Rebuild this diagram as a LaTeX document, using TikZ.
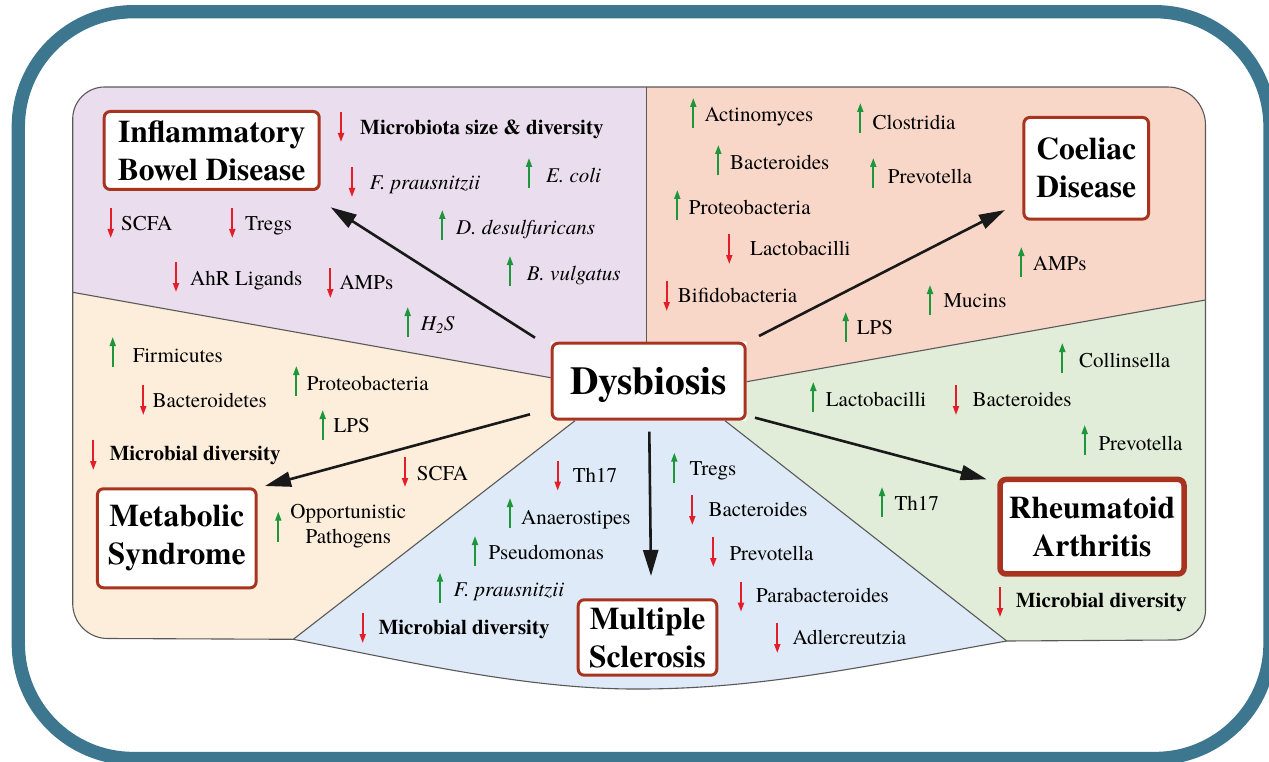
\documentclass[tikz,border=0pt]{standalone}
\usepackage{fontspec}
\setmainfont{TeX Gyre Termes}
\usetikzlibrary{arrows.meta}
\definecolor{frameteal}{RGB}{61,119,143}
\definecolor{cpur}{RGB}{234,221,237}
\definecolor{cpea}{RGB}{249,215,200}
\definecolor{ccre}{RGB}{253,238,219}
\definecolor{cblu}{RGB}{222,234,247}
\definecolor{cgre}{RGB}{225,237,217}
\definecolor{boxred}{RGB}{168,52,32}
\definecolor{upgreen}{RGB}{30,150,60}
\definecolor{dnred}{RGB}{228,30,40}
\newcommand{\UpLbl}[6]{\draw[uparr] (#2,#3+30) -- (#2,#3); \node[lbl] (#1) at (#4,#5+7.5) {#6};}
\newcommand{\DnLbl}[6]{\draw[dnarr] (#2,#3) -- (#2,#3+30); \node[lbl] (#1) at (#4,#5+7.5) {#6};}
\begin{document}
\begin{tikzpicture}[x=1pt,y=-1pt,
  lbl/.style={anchor=base west, inner sep=0pt, font=\fontsize{21}{25}\selectfont},
  uparr/.style={draw=upgreen, line width=1.8pt, -{Triangle[length=9pt,width=6pt]}},
  dnarr/.style={draw=dnred, line width=1.8pt, -{Triangle[length=9pt,width=6pt]}},
  outl/.style={draw=black!65, line width=1.1pt},
  title/.style={draw=boxred, fill=white, line width=3pt, rounded corners=6pt, align=center,
    inner sep=0pt, font=\fontsize{31.5}{38}\selectfont\bfseries},
  bigarr/.style={draw=black!90, line width=2.6pt, -{Triangle[length=26pt,width=15pt]}}]
\useasboundingbox (0,0) rectangle (1269,762);
\fill[white] (0,0) rectangle (1269,762);
% outer frame
\draw[frameteal, line width=13.3pt, rounded corners=115pt] (18.3,11.7) rectangle (1270,758.5);
% key points
\coordinate (Lp) at (72.7,292.3);
\coordinate (Ptop) at (646.7,87);
\coordinate (Pdt) at (646.7,341.7);
\coordinate (Dtl) at (550.7,341.7);
\coordinate (Dl) at (550.7,377.7);
\coordinate (Dtr) at (746.7,341.7);
\coordinate (Dr) at (746.7,381.7);
\coordinate (Dbr) at (746.7,420.7);
\coordinate (Dbg) at (725,420.7);
\coordinate (Dbc) at (575,420.7);
\coordinate (Dbl) at (550.7,420.7);
\coordinate (Rp) at (1205.5,300);
\coordinate (Bg) at (1006.7,641);
\coordinate (Bc) at (293.3,639.3);
% region fills
\fill[cpur] (Lp) -- (72.7,119) .. controls (72.7,101.3) and (87,87) .. (104.7,87) -- (Ptop) -- (Pdt) -- (Dtl) -- (Dl) -- cycle;
\fill[cpea] (Ptop) -- (1167.5,87) .. controls (1188.5,87) and (1205.5,104) .. (1205.5,125) -- (Rp) -- (Dr) -- (Dtr) -- (Pdt) -- cycle;
\fill[cgre] (Rp) -- (1205.5,610) .. controls (1205.5,626.6) and (1192.1,640) .. (1175.5,640) -- (Bg) -- (Dbg) -- (Dbr) -- (Dr) -- cycle;
\fill[cblu] (Bg) .. controls (870,665) and (760,690) .. (630,689) .. controls (520,688) and (400,660) .. (Bc) -- (Dbc) -- (Dbg) -- cycle;
\fill[ccre] (Bc) -- (107.7,638.5) .. controls (88.4,638.5) and (72.7,622.8) .. (72.7,603.5) -- (Lp) -- (Dl) -- (Dbl) -- (Dbc) -- cycle;
% outline and dividers
\draw[outl] (Lp) -- (72.7,119) .. controls (72.7,101.3) and (87,87) .. (104.7,87) -- (1167.5,87)
  .. controls (1188.5,87) and (1205.5,104) .. (1205.5,125) -- (1205.5,610)
  .. controls (1205.5,626.6) and (1192.1,640) .. (1175.5,640) -- (Bg)
  .. controls (870,665) and (760,690) .. (630,689) .. controls (520,688) and (400,660) .. (Bc)
  -- (107.7,638.5) .. controls (88.4,638.5) and (72.7,622.8) .. (72.7,603.5) -- cycle;
\draw[outl] (Ptop) -- (Pdt);
\draw[outl] (Lp) -- (Dl);
\draw[outl] (Rp) -- (Dr);
\draw[outl] (Bc) -- (Dbc);
\draw[outl] (Bg) -- (Dbg);
% boxes
\node[title, font=\fontsize{39.5}{45}\selectfont\bfseries, minimum width=193pt, minimum height=76pt, text height=27pt, text depth=0pt] (dys) at (648.7,381.2) {Dysbiosis};
\node[title, minimum width=215pt, minimum height=78pt] (ibd) at (211.7,150.5) {Inflammatory\\Bowel Disease};
\node[title, minimum width=124.7pt, minimum height=101.7pt] (cel) at (1086.2,168.3) {Coeliac\\Disease};
\node[title, minimum width=158.7pt, minimum height=99pt] (met) at (176.8,538.3) {Metabolic\\Syndrome};
\node[title, minimum width=138.6pt, minimum height=75.4pt] (ms) at (647.5,637.5) {Multiple\\Sclerosis};
\node[title, line width=5.5pt, minimum width=184pt, minimum height=94.5pt] (ra) at (1092,526.7) {Rheumatoid\\Arthritis};
% big arrows
\coordinate (a1s) at (535,337.7); \coordinate (a1e) at (330.7,207.3);
\coordinate (a2s) at (759,336);   \coordinate (a2e) at (1005,210);
\coordinate (a3s) at (530,414.3); \coordinate (a3e) at (265,486);
\coordinate (a4s) at (649.3,431.7); \coordinate (a4e) at (651,576);
\coordinate (a5s) at (755,417.7); \coordinate (a5e) at (986.7,479.3);
\draw[bigarr] (a1s) -- (a1e);
\draw[bigarr] (a2s) -- (a2e);
\draw[bigarr] (a3s) -- (a3e);
\draw[bigarr] (a4s) -- (a4e);
\draw[bigarr] (a5s) -- (a5e);
% IBD items
\DnLbl{p1}{341}{112}{360}{126.7}{\textbf{Microbiota size \& diversity}}
\DnLbl{p2}{352}{167}{369.3}{181.7}{\textit{F. prausnitzii}}
\UpLbl{p3}{529}{158}{546}{175}{\textit{E. coli}}
\DnLbl{p4}{110.7}{208}{121}{223}{SCFA}
\DnLbl{p5}{232.3}{208}{245}{223}{Tregs}
\UpLbl{p6}{442.3}{210}{456}{226.7}{\textit{D. desulfuricans}}
\DnLbl{p7}{176}{262}{190}{277.7}{AhR Ligands}
\DnLbl{p8}{330.3}{268}{339.3}{282.3}{AMPs}
\UpLbl{p9}{510}{256}{526.7}{272.7}{\textit{B. vulgatus}}
\UpLbl{p10}{407.7}{307}{420.7}{322.7}{\textit{H\textsubscript{2}S}}
% Coeliac items
\UpLbl{c1}{693.3}{98}{704.3}{114.3}{Actinomyces}
\UpLbl{c2}{860.3}{103}{872.3}{121.7}{Clostridia}
\UpLbl{c3}{718.3}{145}{730}{161.7}{Bacteroides}
\UpLbl{c4}{873.3}{158}{887.7}{176}{Prevotella}
\UpLbl{c5}{677.3}{190}{688.7}{206.7}{Proteobacteria}
\DnLbl{c6}{729.3}{234}{750}{248.3}{Lactobacilli}
\DnLbl{c7}{666.7}{281}{677.7}{295}{Bifidobacteria}
\UpLbl{c8}{845.7}{312}{856.7}{327.3}{LPS}
\UpLbl{c9}{930}{285}{943.3}{300}{Mucins}
\UpLbl{c10}{1021.3}{247}{1032.7}{262.7}{AMPs}
% Metabolic items
\UpLbl{m1}{112.7}{337}{132.7}{355}{Firmicutes}
\DnLbl{m2}{143.3}{385}{152.3}{400}{Bacteroidetes}
\UpLbl{m3}{296.3}{366}{306.7}{383.3}{Proteobacteria}
\UpLbl{m4}{322.7}{410}{333.3}{425}{LPS}
\DnLbl{m5}{93.3}{440}{109.3}{452.7}{\textbf{Microbial diversity}}
\DnLbl{m6}{405}{457}{416.7}{472.7}{SCFA}
\draw[uparr] (278.3,541.7) -- (278.3,511.7);
\node[inner sep=0pt, align=center, font=\fontsize{21}{25}\selectfont] (m7) at (348.3,526.3) {Opportunistic\\Pathogens};
% MS items
\DnLbl{s1}{557.7}{460.7}{572.7}{475}{Th17}
\UpLbl{s2}{510}{498}{521}{516.7}{Anaerostipes}
\UpLbl{s3}{475}{536}{488.3}{551.7}{Pseudomonas}
\UpLbl{s4}{440}{572.7}{453.3}{589.3}{\textit{F. prausnitzii}}
\DnLbl{s5}{362.7}{613}{378.3}{626.7}{\textbf{Microbial diversity}}
\UpLbl{s6}{674.3}{452.7}{689.3}{468.3}{Tregs}
\DnLbl{s7}{692.3}{495}{708.3}{509.3}{Bacteroides}
\DnLbl{s8}{713.3}{537}{729.3}{552.7}{Prevotella}
\DnLbl{s9}{741}{581.7}{756}{595}{Parabacteroides}
\DnLbl{s10}{777.3}{623}{792.3}{636.7}{Adlercreutzia}
% RA items
\UpLbl{r1}{1062.3}{343}{1079}{360}{Collinsella}
\UpLbl{r2}{813.3}{382}{825.7}{399.3}{Lactobacilli}
\DnLbl{r3}{956}{385}{972.3}{399.3}{Bacteroides}
\UpLbl{r4}{1084.7}{425}{1098.3}{443.3}{Prevotella}
\UpLbl{r5}{882}{487}{894.3}{502.7}{Th17}
\DnLbl{r6}{1000}{587}{1015.7}{600}{\textbf{Microbial diversity}}
\end{tikzpicture}
\end{document}
